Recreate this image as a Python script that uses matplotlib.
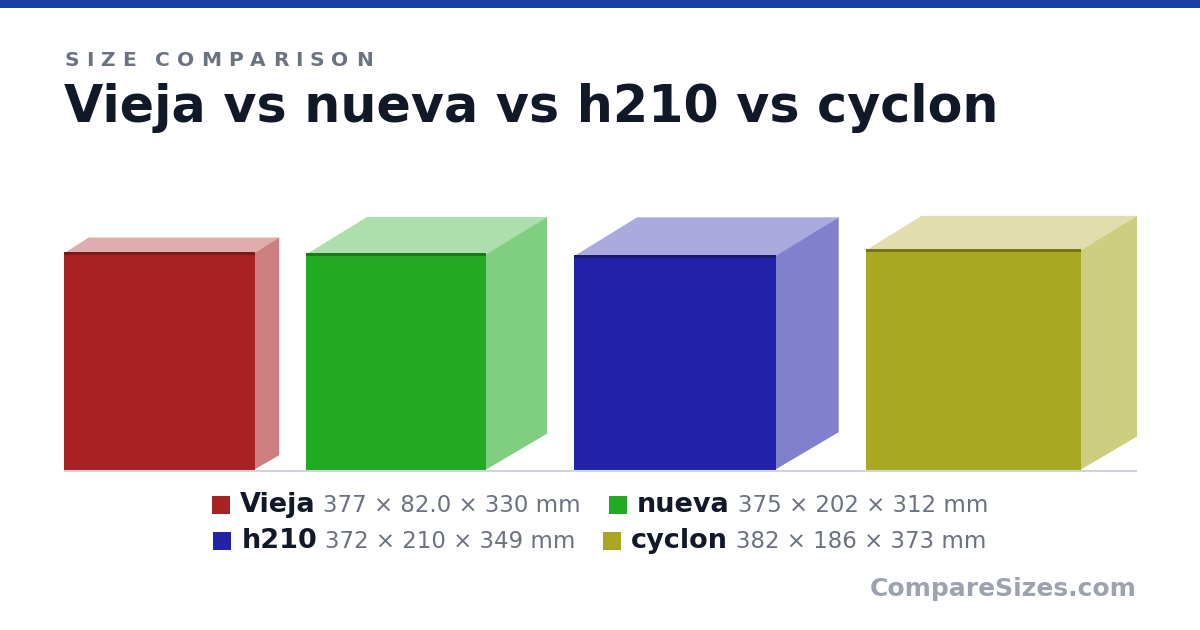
import matplotlib
matplotlib.use("Agg")
import matplotlib.pyplot as plt
from matplotlib.patches import Polygon, Rectangle

# data (mm): height x depth x width
names = ["Vieja", "nueva", "h210", "cyclon"]
heights = [377, 375, 372, 382]
depths = [82.0, 202, 210, 186]
widths = [330, 312, 349, 373]
dim_labels = ["377 × 82.0 × 330 mm", "375 × 202 × 312 mm",
              "372 × 210 × 349 mm", "382 × 186 × 373 mm"]

front = ["#a82224", "#22aa22", "#2323aa", "#aaa823"]
side = ["#cd7f7f", "#80cf80", "#8080cd", "#cdce7e"]
top = ["#e0acac", "#addfad", "#aaaadf", "#dfdeac"]
edge = ["#7a1a1a", "#1a7a1a", "#1a1a70", "#76741a"]

fig = plt.figure(figsize=(12, 6.3), dpi=100)
ax = fig.add_axes([0, 0, 1, 1])
ax.set_xlim(0, 1200)
ax.set_ylim(630, 0)
ax.axis("off")

# top band
ax.add_patch(Rectangle((0, 0), 1200, 8, color="#1a40a8", lw=0))

fig.canvas.draw()
r = fig.canvas.get_renderer()


def text_w(t):
    return t.get_window_extent(renderer=r).width


# letter-spaced kicker
kicker = "SIZE COMPARISON"
cx = 64
for ch in kicker:
    t = ax.text(cx, 60, ch, fontsize=14.5, fontweight="bold", color="#6b7280",
                va="center", ha="left")
    cx += (text_w(t) if ch != " " else 6) + 7

ax.text(64, 108, "Vieja vs nueva vs h210 vs cyclon", fontsize=36.5, fontweight="bold",
        color="#111827", va="center", ha="left")

# boxes
left, right, base, gap = 64, 1137, 470, 27
k, ratio = 0.52, 0.6
s = (right - left - gap * (len(names) - 1)) / (sum(widths) + k * sum(depths))
x = left
for i in range(len(names)):
    w = widths[i] * s
    h = heights[i] * s
    dx = depths[i] * s * k
    dy = dx * ratio
    ax.add_patch(Polygon([(x + w - 1, base), (x + w + dx, base - dy),
                          (x + w + dx, base - h - dy), (x + w - 1, base - h)],
                         closed=True, color=side[i], lw=0))
    ax.add_patch(Polygon([(x, base - h + 1), (x + dx, base - h - dy),
                          (x + w + dx, base - h - dy), (x + w, base - h + 1)],
                         closed=True, color=top[i], lw=0))
    ax.add_patch(Rectangle((x, base - h), w, h, color=front[i], lw=0))
    ax.add_patch(Rectangle((x, base - h), w, 3, color=edge[i], lw=0))
    x += w + dx + gap

ax.plot([left, right], [471, 471], color="#d1d5db", lw=1.5, solid_capstyle="butt")

# legend, two items per row, centred
rows = [[0, 1], [2, 3]]
row_y = [505, 541]
for row, y in zip(rows, row_y):
    parts = []
    total = 0
    for j, i in enumerate(row):
        tn = ax.text(0, y, names[i], fontsize=19.5, fontweight="bold", color="#111827",
                     va="center", ha="left")
        td = ax.text(0, y, dim_labels[i], fontsize=16.5, color="#6b7280",
                     va="center", ha="left")
        wn, wd = text_w(tn), text_w(td)
        parts.append((i, tn, td, wn, wd))
        total += 18 + 10 + wn + 8 + wd
        if j > 0:
            total += 28
    cx = 600 - total / 2
    for j, (i, tn, td, wn, wd) in enumerate(parts):
        if j > 0:
            cx += 28
        ax.add_patch(Rectangle((cx, y - 9), 18, 18, color=front[i], lw=0))
        cx += 28
        tn.set_position((cx, y))
        cx += wn + 8
        td.set_position((cx, y))
        cx += wd

ax.text(1137, 589, "CompareSizes.com", fontsize=18, fontweight="bold",
        color="#9ca3af", va="center", ha="right")

fig.savefig("out.png", dpi=100)
